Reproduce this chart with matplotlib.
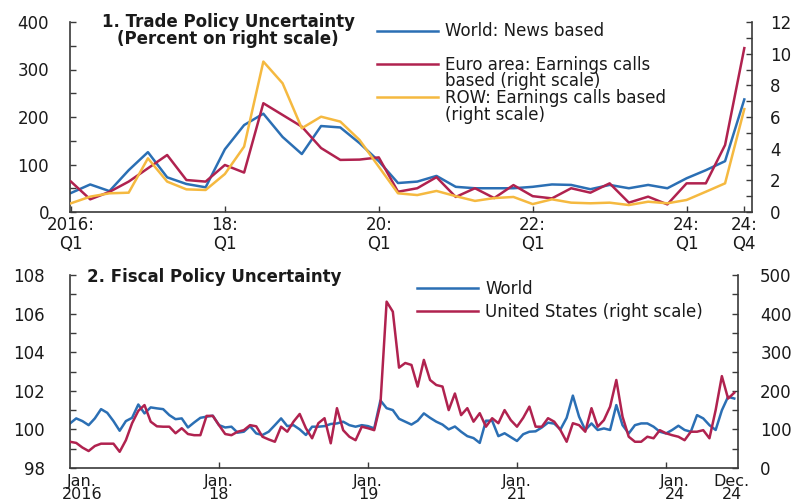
import matplotlib
matplotlib.use("Agg")
import matplotlib.pyplot as plt
from matplotlib.ticker import MultipleLocator, FixedLocator
import numpy as np

plt.rcParams['font.family'] = ['DejaVu Sans']

# ---------------- Panel 1: Trade Policy Uncertainty (quarterly, 2016Q1-2024Q4)
quarters = [f"{y}Q{q}" for y in range(2016, 2025) for q in range(1, 5)]
world_news = [40, 58, 44, 88, 126, 73, 59, 52, 132, 183, 207, 158, 122, 181, 178, 145,
              107, 61, 64, 76, 53, 50, 50, 50, 53, 58, 57, 48, 57, 50, 57, 50,
              71, 88, 107, 237]
euro_calls = [1.92, 0.8, 1.27, 1.92, 2.76, 3.6, 2.02, 1.92, 2.97, 2.49, 6.87, 6.13,
              5.39, 4.04, 3.29, 3.31, 3.45, 1.28, 1.5, 2.2, 0.95, 1.5, 0.88, 1.7,
              1.0, 0.86, 1.5, 1.22, 1.81, 0.59, 0.97, 0.48, 1.81, 1.81, 4.23, 10.35]
row_calls = [0.55, 0.97, 1.18, 1.22, 3.39, 1.92, 1.43, 1.39, 2.4, 4.13, 9.5, 8.13,
             5.29, 6.02, 5.71, 4.55, 2.86, 1.18, 1.07, 1.33, 1.0, 0.7, 0.88, 0.95,
             0.5, 0.8, 0.59, 0.55, 0.59, 0.44, 0.65, 0.55, 0.76, 1.28, 1.81, 6.5]
p1_tick_cats = ["2016Q1", "2018Q1", "2020Q1", "2022Q1", "2024Q1", "2024Q4"]
p1_tick_labels = ["2016:\nQ1", "18:\nQ1", "20:\nQ1", "22:\nQ1", "24:\nQ1", "24:\nQ4"]

# ---------------- Panel 2: Fiscal Policy Uncertainty (monthly, Jan 2016-Dec 2024)
months = [f"{y}-{m:02d}" for y in range(2016, 2025) for m in range(1, 13)]
world_fiscal = [100.31, 100.57, 100.43, 100.22, 100.57, 101.05, 100.86, 100.43, 99.93, 100.43,
                100.6, 101.29, 100.83, 101.14, 101.09, 101.05, 100.74, 100.53, 100.57, 100.1,
                100.36, 100.6, 100.66, 100.71, 100.22, 100.1, 100.14,
                99.83, 99.88, 100.17, 99.79, 99.71, 99.88, 100.22, 100.57, 100.17, 100.22,
                100.0, 99.71, 100.14, 100.14, 100.17, 100.28, 100.31, 100.4, 100.22, 100.14,
                100.22, 100.17, 100.05,
                101.5, 101.1, 101.0, 100.55, 100.40, 100.25, 100.45, 100.83, 100.60, 100.40,
                100.25, 100.0, 100.15, 99.88, 99.65, 99.55, 99.30, 100.45, 100.45, 99.65,
                99.80, 99.60, 99.40, 99.75, 99.88, 99.90, 100.10, 100.35, 100.3, 100.0,
                100.6, 101.75,
                100.66, 99.97, 100.31, 99.97, 100.05, 99.97, 101.26, 100.22, 99.79, 100.22,
                100.31, 100.31, 100.14, 99.88, 99.79, 99.97, 100.19, 99.97, 99.88, 100.74,
                100.57, 100.22, 99.97, 100.99, 101.69, 101.6]
us_fiscal = [68, 65, 53, 44, 57, 63, 63, 63, 42, 72, 116, 148, 163, 120, 108, 107, 107, 90,
             103, 88, 85, 85, 135, 135, 111, 88, 85,
             94, 98, 111, 108, 81, 74, 68, 107, 94, 120, 140, 103, 77, 116, 129, 64, 155,
             98, 81, 72, 107, 103, 98,
             165, 431, 405, 260, 272, 267, 211, 280, 228, 215, 211, 150, 193, 137, 155, 120,
             142, 107, 129, 116, 150, 124, 107, 130, 159, 107, 107, 129, 120, 98, 68, 116,
             111, 94, 155, 107, 124, 159, 228, 133, 81, 68, 68, 81, 77, 98, 90, 85, 81, 72,
             94, 94, 98, 77, 150, 238, 180, 195]
p2_mark_months = ["2018-01", "2020-01", "2022-01", "2024-01"]
p2_tick_labels = ["Jan.\n2016", "Jan.\n18", "Jan.\n19", "Jan.\n21", "Jan.\n24", "Dec.\n24"]
p2_label_pos = [1.9, 24, 48, 72, 97.4, 106.6]

BLUE = "#2b6fb4"
RED = "#b0224f"
YELLOW = "#f5b940"
SPINE = "#3a3a3a"
TXT = "#1a1a1a"
FS = 12

fig = plt.figure(figsize=(7.99, 5.03), dpi=100)
W, H = 799.0, 503.0


def style(ax, axr):
    for a in (ax, axr):
        a.spines['top'].set_visible(False)
        for s in ('left', 'right', 'bottom'):
            a.spines[s].set_color(SPINE)
            a.spines[s].set_linewidth(1.2)
    ax.spines['right'].set_visible(False)
    axr.spines['left'].set_visible(False)
    axr.spines['bottom'].set_visible(False)


# ---------------- Panel 1
ax1 = fig.add_axes([70 / W, 1 - 212 / H, 682 / W, 190 / H])
ax1r = ax1.twinx()
style(ax1, ax1r)
x1 = np.arange(len(quarters))
l_world, = ax1.plot(x1, world_news, color=BLUE, lw=1.8)
l_euro, = ax1r.plot(x1, euro_calls, color=RED, lw=1.8)
l_row, = ax1r.plot(x1, row_calls, color=YELLOW, lw=1.8)
ax1.set_xlim(-0.05, 35.4)
ax1.set_ylim(0, 400)
ax1r.set_ylim(0, 12)
ax1.yaxis.set_major_locator(MultipleLocator(100))
ax1.yaxis.set_minor_locator(MultipleLocator(50))
ax1r.yaxis.set_major_locator(MultipleLocator(2))
ax1r.yaxis.set_minor_locator(MultipleLocator(1))
ax1.set_xticks([quarters.index(c) for c in p1_tick_cats], p1_tick_labels,
               linespacing=1.05)
ax1.tick_params(axis='x', direction='in', length=4, width=1, color=SPINE,
                labelsize=FS, labelcolor=TXT, pad=3)
ax1.tick_params(axis='y', which='both', direction='in', length=4, width=1,
                color=SPINE, labelsize=FS, labelcolor=TXT, pad=15)
ax1r.tick_params(axis='y', which='both', direction='in', length=4, width=1,
                 color=SPINE, labelsize=FS, labelcolor=TXT, pad=13)

h_blank = [plt.Line2D([], [], color='none') for _ in range(3)]
ax1r.legend([l_world, h_blank[0], l_euro, h_blank[1], l_row, h_blank[2]],
            ["World: News based", " ", "Euro area: Earnings calls", "based (right scale)",
             "ROW: Earnings calls based", "(right scale)"],
            loc='upper left', bbox_to_anchor=(377 / W, 1 - 22.5 / H),
            bbox_transform=fig.transFigure, frameon=False, fontsize=FS,
            handlelength=3.66, handletextpad=0.42, labelspacing=-0.08,
            borderpad=0, borderaxespad=0, labelcolor=TXT)

fig.text(228 / W, 1 - 13 / H, "1. Trade Policy Uncertainty\n(Percent on right scale)",
         ha='center', va='top', fontsize=FS, fontweight='bold', color=TXT,
         linespacing=0.9)

# ---------------- Panel 2
ax2 = fig.add_axes([70 / W, 1 - 468 / H, 668 / W, 193 / H])
ax2r = ax2.twinx()
style(ax2, ax2r)
x2 = np.arange(len(months))
l_wf, = ax2.plot(x2, world_fiscal, color=BLUE, lw=1.8)
l_us, = ax2r.plot(x2, us_fiscal, color=RED, lw=1.8)
ax2.set_xlim(0, 107.6)
ax2.set_ylim(98, 108)
ax2r.set_ylim(0, 500)
ax2.yaxis.set_major_locator(MultipleLocator(2))
ax2.yaxis.set_minor_locator(MultipleLocator(1))
ax2r.yaxis.set_major_locator(MultipleLocator(100))
ax2r.yaxis.set_minor_locator(MultipleLocator(50))
ax2.xaxis.remove_overlapping_locs = False
ax2.set_xticks(p2_label_pos, p2_tick_labels, linespacing=0.9)
ax2.xaxis.set_minor_locator(FixedLocator([months.index(m) for m in p2_mark_months]))
ax2.tick_params(axis='x', which='major', length=0, labelsize=11.5, labelcolor=TXT, pad=4)
ax2.tick_params(axis='x', which='minor', direction='in', length=4, width=1, color=SPINE)
ax2.tick_params(axis='y', which='both', direction='in', length=4, width=1,
                color=SPINE, labelsize=FS, labelcolor=TXT, pad=18)
ax2r.tick_params(axis='y', which='both', direction='in', length=4, width=1,
                 color=SPINE, labelsize=FS, labelcolor=TXT, pad=16)

ax2r.legend([l_wf, l_us], ["World", "United States (right scale)"],
            loc='upper left', bbox_to_anchor=(417 / W, 1 - 279.5 / H),
            bbox_transform=fig.transFigure, frameon=False, fontsize=FS,
            handlelength=3.66, handletextpad=0.42, labelspacing=0.32,
            borderpad=0, borderaxespad=0, labelcolor=TXT)

fig.text(87 / W, 1 - 277 / H, "2. Fiscal Policy Uncertainty", ha='left', va='center',
         fontsize=FS, fontweight='bold', color=TXT)

fig.savefig("out.png", dpi=100)
